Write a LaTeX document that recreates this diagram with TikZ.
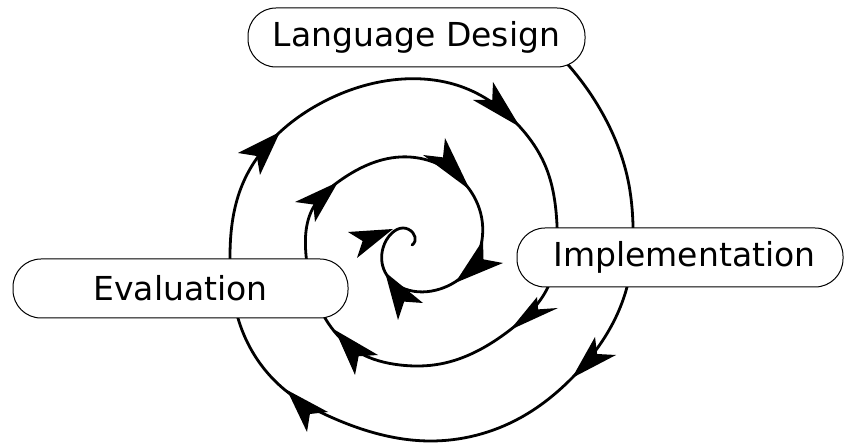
\documentclass[tikz,border=0pt]{standalone}
\usepackage{fontspec}
\setmainfont{DejaVu Sans}
\usetikzlibrary{calc,hobby}

% filled stealth-like head: tip, first barb, second barb
\newcommand\spiralhead[3]{%
  \fill[head] (#1) -- (#2) -- ($(#2)!0.5!(#3)!0.25!(#1)$) -- (#3) -- cycle;}

\begin{document}
\begin{tikzpicture}[x=1pt, y=-1pt,
  spiral/.style={line width=2.8pt, line join=round, line cap=round},
  head/.style={fill=black},
  stage/.style={draw, line width=1pt, fill=white, rounded corners=28pt,
    minimum height=59pt, inner sep=0pt, text=black,
    font=\fontsize{33}{40}\selectfont}]
\useasboundingbox (0,0) rectangle (844,443);

% the spiral, wound clockwise from the outside inwards
\draw[spiral, use Hobby shortcut]
  (556,52) .. (605,118) .. (628,180) .. (633,225) .. (627,287) ..
  (572,378) .. (520,418) .. (430,441) .. (333,418) .. (285,390) ..
  (244,335) .. (230,255) .. (243,183) .. (280,132) .. (327,100) ..
  (403,79) .. (465,88) .. (520,127) .. (545,165) .. (557,225) ..
  (548,287) .. (510,330) .. (440,364) .. (400,365) .. (358,352) ..
  (325,318) .. (306,255) .. (313,208) .. (338,182) .. (400,157) ..
  (452,172) .. (478,205) .. (482,240) .. (467,272) .. (440,289) ..
  (405,289) .. (385,272) .. (383,248) .. (392,233) .. (403,228) ..
  (413,233) .. (415,241) .. (412,245);

% arrowheads along the spiral
\spiralhead{572,378}{595,337}{616,355}
\spiralhead{287,390}{307,432}{328,412}
\spiralhead{280,132}{238,153}{260,175}
\spiralhead{520,127}{493,82}{473,100}
\spiralhead{510,330}{537,297}{558,308}
\spiralhead{335,330}{355,375}{378,355}
\spiralhead{338,182}{295,202}{315,222}
\spiralhead{470,190}{445,138}{423,155}
\spiralhead{455,283}{483,240}{503,263}
\spiralhead{385,272}{398,320}{423,303}
\spiralhead{393,229}{348,232}{357,258}

% the three stages
\node[stage, minimum width=337pt] (design) at (416.5,37.5) {Language Design};
\node[stage, minimum width=326pt] (impl) at (680,257.5) {\hspace*{9pt}Implementation};
\node[stage, minimum width=335pt] (eval) at (180.5,288.5) {Evaluation};
\end{tikzpicture}
\end{document}
